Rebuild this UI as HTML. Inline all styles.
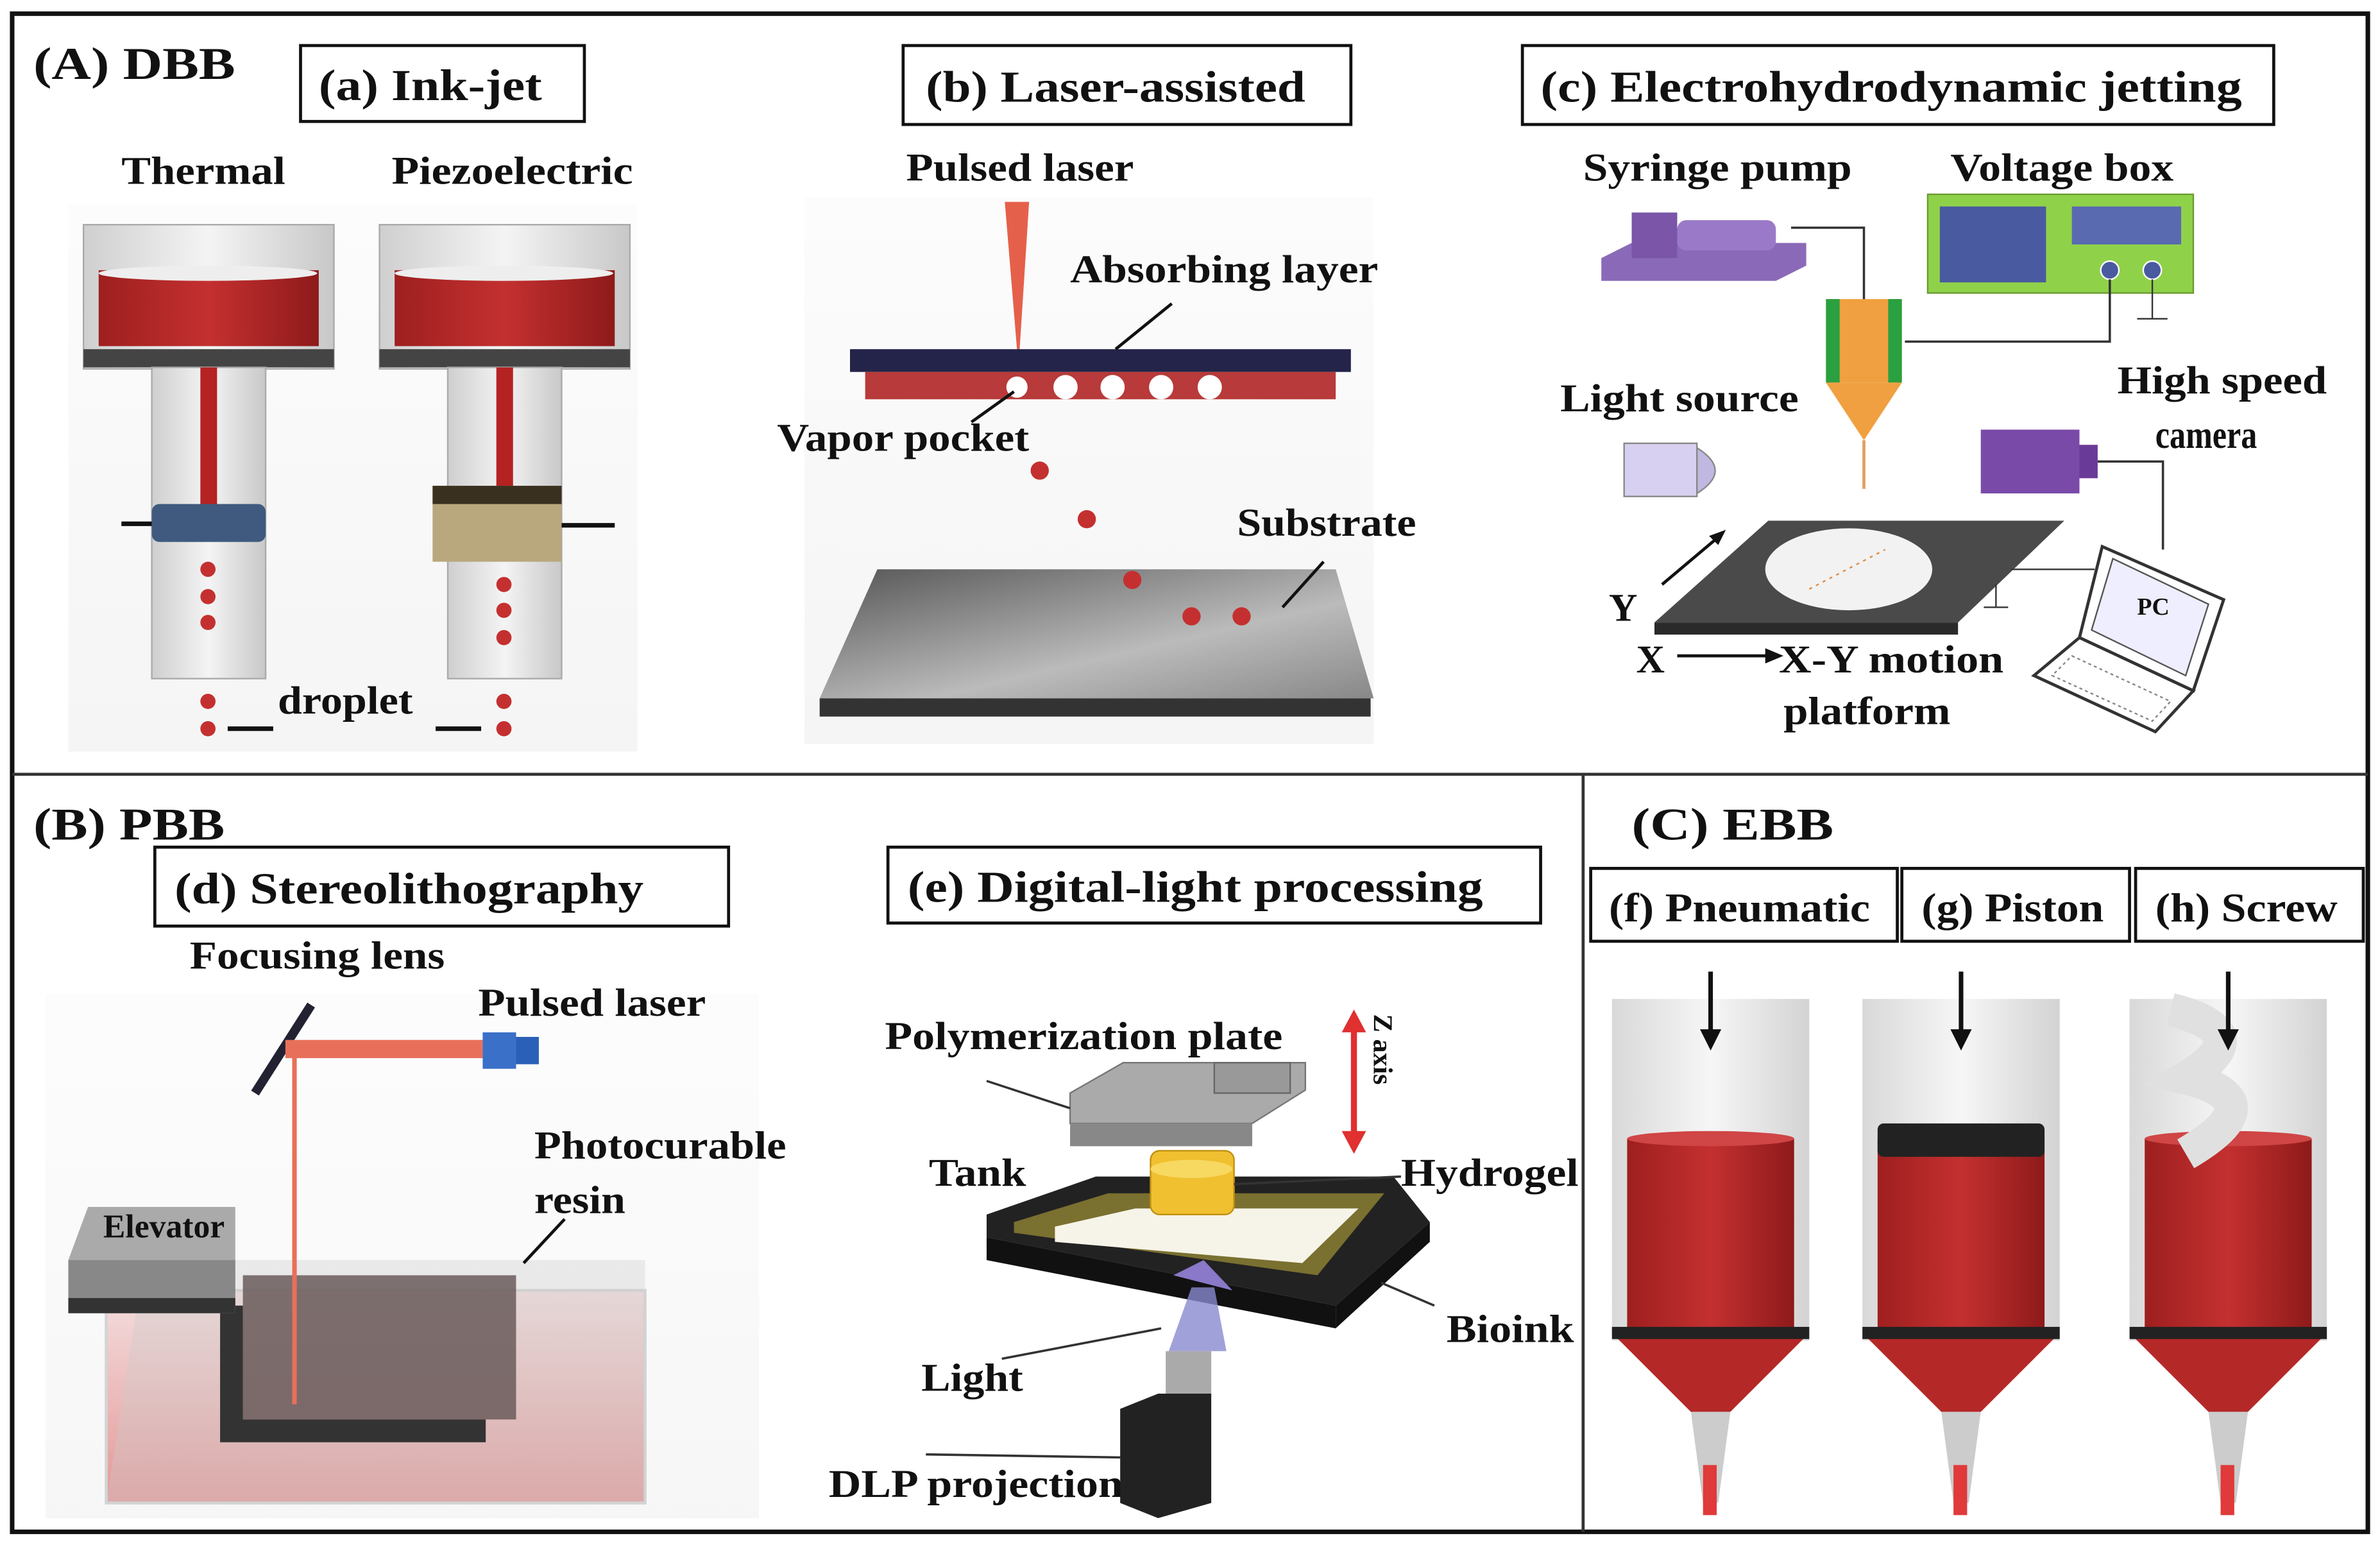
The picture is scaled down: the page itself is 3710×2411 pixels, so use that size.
<!DOCTYPE html>
<html><head><meta charset="utf-8"><style>
html,body{margin:0;padding:0;background:#fff;}
svg{display:block}
text{font-family:"Liberation Serif",serif;font-weight:bold;fill:#111}
</style></head><body>
<svg width="3710" height="2411" viewBox="0 0 1568 1019" xmlns="http://www.w3.org/2000/svg">
<defs>
<linearGradient id="glass" x1="0" x2="1"><stop offset="0" stop-color="#cfcfcf"/><stop offset=".5" stop-color="#f4f4f4"/><stop offset="1" stop-color="#c8c8c8"/></linearGradient>
<linearGradient id="red" x1="0" x2="1"><stop offset="0" stop-color="#9e1f1f"/><stop offset=".5" stop-color="#c43030"/><stop offset="1" stop-color="#8e1a1a"/></linearGradient>
<linearGradient id="sub" x1="0" x2="1" y1="0" y2="1"><stop offset="0" stop-color="#555"/><stop offset=".6" stop-color="#bbb"/><stop offset="1" stop-color="#888"/></linearGradient>
<linearGradient id="tankr" x1="0" y1="0" x2="0" y2="1"><stop offset="0" stop-color="#f3d8d8"/><stop offset="1" stop-color="#e08080"/></linearGradient>
<linearGradient id="bg" x1="0" y1="0" x2="0" y2="1"><stop offset="0" stop-color="#fafafa"/><stop offset="1" stop-color="#eee"/></linearGradient>
</defs>
<rect width="1568" height="1019" fill="#fff"/>
<rect x="45" y="135" width="375" height="360" fill="url(#bg)" opacity=".6"/>
<rect x="530" y="130" width="375" height="360" fill="url(#bg)" opacity=".6"/>
<rect x="30" y="655" width="470" height="345" fill="url(#bg)" opacity=".5"/>
<rect x="8" y="9" width="1552" height="1000" fill="none" stroke="#111" stroke-width="3"/>
<line x1="8" y1="510" x2="1560" y2="510" stroke="#333" stroke-width="2"/>
<line x1="1043" y1="510" x2="1043" y2="1009" stroke="#333" stroke-width="2"/>

<!-- A -->
<text x="22" y="52" font-size="30" textLength="133" lengthAdjust="spacingAndGlyphs">(A) DBB</text>
<rect x="198" y="30" width="187" height="50" fill="#fff" stroke="#111" stroke-width="2"/>
<text x="210" y="66" font-size="29" textLength="147" lengthAdjust="spacingAndGlyphs">(a) Ink-jet</text>
<text x="80" y="121" font-size="26" textLength="108" lengthAdjust="spacingAndGlyphs">Thermal</text>
<text x="258" y="121" font-size="26" textLength="159" lengthAdjust="spacingAndGlyphs">Piezoelectric</text>
<g id="th">
<rect x="55" y="148" width="165" height="95" fill="url(#glass)" stroke="#aaa"/>
<rect x="65" y="178" width="145" height="50" fill="url(#red)"/>
<ellipse cx="137" cy="180" rx="72" ry="5" fill="#eee"/>
<rect x="55" y="230" width="165" height="12" fill="#444"/>
<rect x="100" y="242" width="75" height="205" fill="url(#glass)" stroke="#aaa"/>
<rect x="132" y="242" width="11" height="90" fill="#b52222"/>
</g>
<rect x="100" y="332" width="75" height="25" rx="5" fill="#3f5a7e"/>
<line x1="80" y1="345" x2="100" y2="345" stroke="#111" stroke-width="3"/>
<g fill="#c43030"><circle cx="137" cy="375" r="5"/><circle cx="137" cy="393" r="5"/><circle cx="137" cy="410" r="5"/><circle cx="137" cy="462" r="5"/><circle cx="137" cy="480" r="5"/></g>
<line x1="150" y1="480" x2="180" y2="480" stroke="#111" stroke-width="3"/>
<use href="#th" x="195"/>
<rect x="285" y="320" width="85" height="50" fill="#b9a77d"/>
<rect x="285" y="320" width="85" height="12" fill="#3a3020"/>
<line x1="370" y1="346" x2="405" y2="346" stroke="#111" stroke-width="3"/>
<g fill="#c43030"><circle cx="332" cy="385" r="5"/><circle cx="332" cy="402" r="5"/><circle cx="332" cy="420" r="5"/><circle cx="332" cy="462" r="5"/><circle cx="332" cy="480" r="5"/></g>
<line x1="287" y1="480" x2="317" y2="480" stroke="#111" stroke-width="3"/>
<text x="183" y="470" font-size="26" textLength="89" lengthAdjust="spacingAndGlyphs">droplet</text>

<!-- b -->
<rect x="595" y="30" width="295" height="52" fill="#fff" stroke="#111" stroke-width="2"/>
<text x="610" y="67" font-size="29" textLength="250" lengthAdjust="spacingAndGlyphs">(b) Laser-assisted</text>
<text x="597" y="119" font-size="26" textLength="150" lengthAdjust="spacingAndGlyphs">Pulsed laser</text>
<polygon points="662,133 678,133 671,242" fill="#e5604a"/>
<rect x="560" y="230" width="330" height="15" fill="#24244a"/>
<rect x="570" y="245" width="310" height="18" fill="#b83a3a"/>
<g fill="#fff"><circle cx="670" cy="255" r="7"/><circle cx="702" cy="255" r="8"/><circle cx="733" cy="255" r="8"/><circle cx="765" cy="255" r="8"/><circle cx="797" cy="255" r="8"/></g>
<text x="705" y="186" font-size="26" textLength="203" lengthAdjust="spacingAndGlyphs">Absorbing layer</text>
<line x1="735" y1="230" x2="772" y2="200" stroke="#111" stroke-width="2"/>
<text x="512" y="297" font-size="26" textLength="166" lengthAdjust="spacingAndGlyphs">Vapor pocket</text>
<line x1="640" y1="278" x2="668" y2="258" stroke="#111" stroke-width="2"/>
<polygon points="578,375 880,375 905,460 540,460" fill="url(#sub)"/>
<rect x="540" y="460" width="363" height="12" fill="#333"/>
<g fill="#c43030"><circle cx="685" cy="310" r="6"/><circle cx="716" cy="342" r="6"/><circle cx="746" cy="382" r="6"/><circle cx="785" cy="406" r="6"/><circle cx="818" cy="406" r="6"/></g>
<text x="815" y="353" font-size="26" textLength="118" lengthAdjust="spacingAndGlyphs">Substrate</text>
<line x1="845" y1="400" x2="872" y2="370" stroke="#111" stroke-width="2"/>

<!-- c -->
<rect x="1003" y="30" width="495" height="52" fill="#fff" stroke="#111" stroke-width="2"/>
<text x="1015" y="67" font-size="29" textLength="462" lengthAdjust="spacingAndGlyphs">(c) Electrohydrodynamic jetting</text>
<text x="1043" y="119" font-size="26" textLength="177" lengthAdjust="spacingAndGlyphs">Syringe pump</text>
<text x="1285" y="119" font-size="26" textLength="147" lengthAdjust="spacingAndGlyphs">Voltage box</text>
<polygon points="1055,170 1075,160 1190,160 1190,175 1170,185 1055,185" fill="#8a6ab8"/>
<rect x="1075" y="140" width="30" height="30" fill="#7a55a8"/>
<rect x="1105" y="145" width="65" height="20" rx="6" fill="#9a7ac8"/>
<rect x="1270" y="128" width="175" height="65" fill="#8fd24a" stroke="#6a9a30"/>
<rect x="1278" y="136" width="70" height="50" fill="#4a5aa0"/>
<rect x="1365" y="136" width="72" height="25" fill="#5a6ab0"/>
<circle cx="1390" cy="178" r="6" fill="#4a5aa0" stroke="#fff"/><circle cx="1418" cy="178" r="6" fill="#4a5aa0" stroke="#fff"/>
<polyline points="1180,150 1228,150 1228,198" fill="none" stroke="#333" stroke-width="1.5"/>
<polyline points="1255,225 1390,225 1390,184" fill="none" stroke="#333" stroke-width="1.5"/>
<line x1="1418" y1="184" x2="1418" y2="210" stroke="#333"/><line x1="1408" y1="210" x2="1428" y2="210" stroke="#333"/>
<rect x="1203" y="197" width="50" height="55" fill="#f0a040"/>
<rect x="1203" y="197" width="9" height="55" fill="#2aa040"/><rect x="1244" y="197" width="9" height="55" fill="#2aa040"/>
<polygon points="1203,252 1253,252 1228,290" fill="#f0a040"/>
<line x1="1228" y1="290" x2="1228" y2="322" stroke="#e0a060" stroke-width="2"/>
<text x="1028" y="271" font-size="26" textLength="157" lengthAdjust="spacingAndGlyphs">Light source</text>
<text x="1395" y="259" font-size="26" textLength="138" lengthAdjust="spacingAndGlyphs">High speed</text>
<text x="1420" y="295" font-size="26" textLength="67" lengthAdjust="spacingAndGlyphs">camera</text>
<rect x="1070" y="292" width="48" height="35" fill="#d8d0f0" stroke="#888"/>
<path d="M1118,295 Q1142,310 1118,325 Z" fill="#c0b8e0" stroke="#888"/>
<rect x="1305" y="283" width="65" height="42" fill="#7a4aa8"/>
<rect x="1370" y="293" width="12" height="22" fill="#6a3a98"/>
<polyline points="1382,304 1425,304 1425,362" fill="none" stroke="#333" stroke-width="1.5"/>
<polygon points="1090,410 1165,343 1360,343 1290,410" fill="#4a4a4a"/>
<polygon points="1090,410 1290,410 1290,418 1090,418" fill="#2a2a2a"/>
<ellipse cx="1218" cy="375" rx="55" ry="27" fill="#f2f2f2"/>
<line x1="1192" y1="388" x2="1242" y2="362" stroke="#e08a40" stroke-dasharray="2,3"/>
<line x1="1325" y1="375" x2="1380" y2="375" stroke="#333"/>
<line x1="1315" y1="385" x2="1315" y2="400" stroke="#333"/><line x1="1307" y1="400" x2="1323" y2="400" stroke="#333"/>
<line x1="1095" y1="385" x2="1133" y2="353" stroke="#111" stroke-width="2"/>
<polygon points="1137,349 1126,353 1132,359" fill="#111"/>
<text x="1060" y="409" font-size="26">Y</text>
<text x="1078" y="443" font-size="26">X</text>
<line x1="1105" y1="432" x2="1165" y2="432" stroke="#111" stroke-width="2"/>
<polygon points="1175,432 1163,427 1163,437" fill="#111"/>
<text x="1172" y="443" font-size="26" textLength="148" lengthAdjust="spacingAndGlyphs">X-Y motion</text>
<text x="1175" y="477" font-size="26" textLength="110" lengthAdjust="spacingAndGlyphs">platform</text>
<polygon points="1385,360 1465,395 1445,455 1370,420" fill="#fff" stroke="#333" stroke-width="2"/>
<polygon points="1392,368 1455,398 1440,445 1378,415" fill="#eef" stroke="#555"/>
<text x="1408" y="405" font-size="16" font-weight="normal">PC</text>
<polygon points="1370,420 1445,455 1420,482 1340,445" fill="#fff" stroke="#333" stroke-width="2"/>
<polygon points="1365,432 1430,462 1418,475 1352,445" fill="none" stroke="#888" stroke-dasharray="2,2"/>

<!-- B -->
<text x="22" y="553" font-size="30" textLength="126" lengthAdjust="spacingAndGlyphs">(B) PBB</text>
<rect x="102" y="558" width="378" height="52" fill="#fff" stroke="#111" stroke-width="2"/>
<text x="115" y="595" font-size="29" textLength="309" lengthAdjust="spacingAndGlyphs">(d) Stereolithography</text>
<text x="125" y="638" font-size="26" textLength="168" lengthAdjust="spacingAndGlyphs">Focusing lens</text>
<text x="315" y="669" font-size="26" textLength="150" lengthAdjust="spacingAndGlyphs">Pulsed laser</text>
<line x1="168" y1="720" x2="205" y2="662" stroke="#223" stroke-width="6"/>
<rect x="188" y="685" width="130" height="12" fill="#e8705a"/>
<rect x="318" y="680" width="22" height="24" fill="#3a70c8"/>
<rect x="340" y="683" width="15" height="18" fill="#2a60b8"/>
<text x="352" y="763" font-size="26" textLength="166" lengthAdjust="spacingAndGlyphs">Photocurable</text>
<text x="352" y="799" font-size="26" textLength="60" lengthAdjust="spacingAndGlyphs">resin</text>
<rect x="70" y="850" width="355" height="140" fill="url(#tankr)" stroke="#ccc" stroke-width="2" opacity=".8"/>
<polygon points="95,830 425,830 425,990 70,990" fill="#ccc" opacity=".35"/>
<polygon points="160,840 340,840 340,935 160,935" fill="#6a5a5a" opacity=".85"/>
<polygon points="145,860 160,860 160,935 320,935 320,950 145,950" fill="#333"/>
<polygon points="45,830 58,795 155,795 155,865 45,865" fill="#aaa"/>
<rect x="45" y="830" width="110" height="35" fill="#888"/>
<rect x="45" y="855" width="110" height="10" fill="#333"/>
<text x="68" y="815" font-size="22" font-family="Liberation Sans,sans-serif" font-weight="normal" textLength="80" lengthAdjust="spacingAndGlyphs">Elevator</text>
<line x1="194" y1="695" x2="194" y2="925" stroke="#e8705a" stroke-width="3"/>
<line x1="345" y1="832" x2="372" y2="803" stroke="#111" stroke-width="2"/>

<!-- e -->
<rect x="585" y="558" width="430" height="50" fill="#fff" stroke="#111" stroke-width="2"/>
<text x="598" y="594" font-size="29" textLength="379" lengthAdjust="spacingAndGlyphs">(e) Digital-light processing</text>
<text x="583" y="691" font-size="26" textLength="262" lengthAdjust="spacingAndGlyphs">Polymerization plate</text>
<text x="612" y="781" font-size="26" textLength="64" lengthAdjust="spacingAndGlyphs">Tank</text>
<text x="953" y="884" font-size="26" textLength="84" lengthAdjust="spacingAndGlyphs">Bioink</text>
<text x="607" y="916" font-size="26" textLength="67" lengthAdjust="spacingAndGlyphs">Light</text>
<text x="546" y="986" font-size="26" textLength="194" lengthAdjust="spacingAndGlyphs">DLP projection</text>
<text x="905" y="668" font-size="18" transform="rotate(90 905 668)">Z axis</text>
<line x1="892" y1="675" x2="892" y2="750" stroke="#e03030" stroke-width="4"/>
<polygon points="892,665 884,680 900,680" fill="#e03030"/><polygon points="892,760 884,745 900,745" fill="#e03030"/>
<polygon points="705,720 740,700 860,700 860,718 825,740 705,740" fill="#aaa" stroke="#777"/>
<polygon points="705,740 825,740 825,755 705,755" fill="#888"/>
<rect x="800" y="700" width="50" height="20" fill="#999" stroke="#666"/>
<line x1="650" y1="712" x2="705" y2="730" stroke="#333" stroke-width="1.5"/>
<polygon points="650,800 722,775 918,775 942,805 880,860 650,815" fill="#222"/>
<polygon points="668,805 730,786 912,786 868,840 668,812" fill="#7a7030"/>
<polygon points="695,808 748,796 895,796 858,832 695,818" fill="#f6f4e8"/>
<polygon points="650,815 880,860 880,875 650,830" fill="#111"/>
<polygon points="880,860 942,805 942,818 880,875" fill="#111"/>
<rect x="758" y="758" width="55" height="42" rx="6" fill="#f0c030" stroke="#c09010"/>
<ellipse cx="785" cy="770" rx="27" ry="6" fill="#f7d860"/>
<line x1="813" y1="780" x2="923" y2="775" stroke="#333" stroke-width="1.5"/>
<text x="923" y="781" font-size="26" textLength="117" lengthAdjust="spacingAndGlyphs">Hydrogel</text>
<polygon points="773,840 793,830 812,850" fill="#8a78c8"/>
<polygon points="785,848 800,848 808,890 770,890" fill="#8a8ad0" opacity=".8"/>
<line x1="945" y1="860" x2="910" y2="845" stroke="#333" stroke-width="1.5"/>
<line x1="660" y1="895" x2="765" y2="875" stroke="#333" stroke-width="1.5"/>
<rect x="768" y="890" width="30" height="30" fill="#aaa"/>
<polygon points="738,928 763,918 798,918 798,990 763,1000 738,990" fill="#222"/>
<line x1="610" y1="958" x2="738" y2="960" stroke="#333" stroke-width="1.5"/>

<!-- C -->
<text x="1075" y="553" font-size="30" textLength="133" lengthAdjust="spacingAndGlyphs">(C) EBB</text>
<rect x="1048" y="572" width="202" height="48" fill="#fff" stroke="#111" stroke-width="2"/>
<text x="1060" y="607" font-size="27" textLength="172" lengthAdjust="spacingAndGlyphs">(f) Pneumatic</text>
<rect x="1253" y="572" width="150" height="48" fill="#fff" stroke="#111" stroke-width="2"/>
<text x="1266" y="607" font-size="27" textLength="120" lengthAdjust="spacingAndGlyphs">(g) Piston</text>
<rect x="1407" y="572" width="150" height="48" fill="#fff" stroke="#111" stroke-width="2"/>
<text x="1420" y="607" font-size="27" textLength="120" lengthAdjust="spacingAndGlyphs">(h) Screw</text>
<g id="syr">
<rect x="1062" y="658" width="130" height="225" fill="url(#glass)" opacity=".8"/>
<rect x="1072" y="750" width="110" height="125" fill="url(#red)"/>
<ellipse cx="1127" cy="750" rx="55" ry="5" fill="#d04545"/>
<path d="M1062,878 L1192,878 L1140,930 L1114,930 Z" fill="#b52828"/>
<rect x="1062" y="874" width="130" height="8" fill="#222"/>
<polygon points="1114,930 1140,930 1132,990 1122,990" fill="#ccc"/>
<rect x="1122" y="965" width="9" height="33" fill="#e03a3a"/>
</g>
<use href="#syr" x="165"/>
<use href="#syr" x="341"/>
<rect x="1237" y="740" width="110" height="22" rx="4" fill="#222"/>
<path d="M1430,665 Q1490,680 1440,710 Q1500,725 1440,760" fill="none" stroke="#e0e0e0" stroke-width="22"/>
<g stroke="#111" stroke-width="3"><line x1="1127" y1="640" x2="1127" y2="685"/><line x1="1292" y1="640" x2="1292" y2="685"/><line x1="1468" y1="640" x2="1468" y2="685"/></g>
<g fill="#111"><polygon points="1127,692 1120,678 1134,678"/><polygon points="1292,692 1285,678 1299,678"/><polygon points="1468,692 1461,678 1475,678"/></g>
</svg>
</body></html>
